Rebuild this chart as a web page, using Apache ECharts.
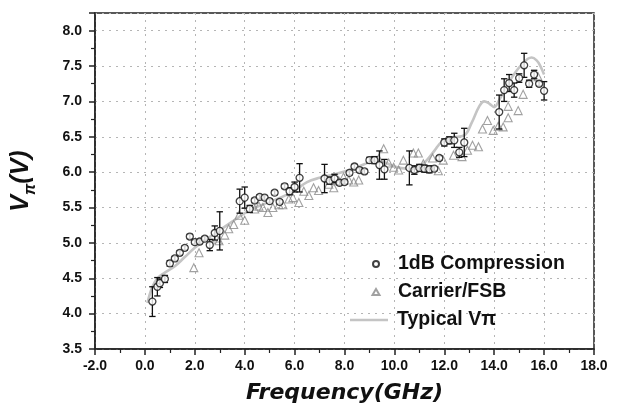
<!DOCTYPE html>
<html>
<head>
<meta charset="utf-8">
<script src="https://cdn.jsdelivr.net/npm/echarts@6/dist/echarts.min.js"></script>
<style>html,body{margin:0;padding:0;background:#fff;}#c{width:619px;height:415px;}</style>
</head>
<body>
<div id="c"></div>
<script>
// 1dB Compression (circles with error bars)
const cmpX = [0.3,0.5,0.6,0.8,1.0,1.2,1.4,1.6,1.8,2.0,2.2,2.4,2.6,2.8,3.0,3.8,4.0,4.2,4.4,4.6,4.8,5.0,5.2,5.4,5.6,5.8,6.0,6.2,7.2,7.4,7.6,7.8,8.0,8.2,8.4,8.6,8.8,9.0,9.2,9.4,9.6,10.6,10.8,11.0,11.2,11.4,11.6,11.8,12.0,12.2,12.4,12.6,12.8,14.2,14.4,14.6,14.8,15.0,15.2,15.4,15.6,15.8,16.0];
const cmpY = [4.17,4.38,4.43,4.49,4.71,4.78,4.86,4.93,5.09,5.01,5.02,5.06,4.97,5.14,5.17,5.59,5.64,5.48,5.60,5.65,5.64,5.59,5.71,5.58,5.80,5.73,5.79,5.92,5.91,5.88,5.91,5.85,5.86,5.99,6.08,6.03,6.01,6.17,6.17,6.10,6.04,6.06,6.03,6.06,6.05,6.04,6.05,6.20,6.42,6.45,6.45,6.28,6.42,6.85,7.16,7.26,7.16,7.33,7.51,7.25,7.38,7.25,7.15];
const cmpErr = [0.21,0.13,0.06,0.05,0.04,0.03,0.03,0.03,0.03,0.03,0.03,0.03,0.08,0.10,0.27,0.17,0.15,0.05,0.03,0.03,0.03,0.03,0.03,0.03,0.03,0.05,0.07,0.20,0.20,0.05,0.06,0.03,0.03,0.03,0.03,0.03,0.03,0.04,0.05,0.20,0.14,0.24,0.06,0.05,0.05,0.05,0.03,0.03,0.05,0.05,0.10,0.07,0.20,0.24,0.16,0.12,0.10,0.06,0.17,0.05,0.06,0.03,0.13];
// Carrier/FSB (triangles)
const fsbX = [1.96,2.17,2.87,2.97,3.2,3.36,3.56,3.77,4.0,4.4,4.57,4.73,4.93,5.13,5.37,5.53,5.77,5.93,6.17,6.37,6.57,6.76,6.96,7.37,7.57,7.77,7.96,8.17,8.37,8.57,9.37,9.57,9.77,9.97,10.17,10.36,10.76,10.96,11.16,11.53,11.76,11.96,12.37,12.71,12.93,13.13,13.37,13.53,13.73,13.96,14.16,14.36,14.56,14.56,14.96,15.16,15.76];
const fsbY = [4.65,4.86,5.07,5.03,5.11,5.20,5.26,5.39,5.32,5.48,5.52,5.50,5.43,5.50,5.54,5.54,5.62,5.64,5.57,5.73,5.67,5.78,5.74,5.83,5.78,5.88,5.93,5.89,5.86,5.89,6.19,6.33,6.13,6.07,6.03,6.17,6.27,6.27,6.12,6.20,6.02,6.17,6.24,6.22,6.31,6.38,6.36,6.61,6.73,6.59,6.65,6.64,6.77,6.93,6.87,7.10,7.35];
// Typical Vpi curve
const typX = [0.1,0.3,0.5,0.8,1.2,1.6,2.0,2.5,3.0,3.5,4.0,4.5,5.0,5.5,6.0,6.5,7.0,7.5,8.0,8.5,9.0,9.3,9.6,10.0,10.5,11.0,11.3,11.6,11.9,12.3,12.8,13.1,13.4,13.6,13.8,14.0,14.2,14.6,15.1,15.5,15.7,15.85,16.0];
const typY = [4.15,4.38,4.50,4.58,4.67,4.80,4.93,5.06,5.18,5.30,5.42,5.51,5.58,5.65,5.74,5.86,5.92,5.96,6.01,6.07,6.14,6.16,6.14,6.08,6.05,6.08,6.17,6.30,6.43,6.49,6.52,6.70,6.93,7.00,6.97,6.92,7.02,7.28,7.52,7.62,7.58,7.50,7.38];
const xTicks = {min: -2, max: 18, step: 2};
const yTicks = {min: 3.5, max: 8.25, step: 0.5};

const cmpData = cmpX.map((x, i) => [x, cmpY[i]]);
const errData = cmpX.map((x, i) => [x, cmpY[i], cmpErr[i]]);
const fsbData = fsbX.map((x, i) => [x, fsbY[i]]);
const typData = typX.map((x, i) => [x, typY[i]]);

const chart = echarts.init(document.getElementById('c'), null, {renderer: 'canvas'});
const tickFont = {fontFamily: '"Liberation Sans", Arial, sans-serif', fontWeight: 'bold', fontSize: 14, color: '#111'};
const legendFont = {fontFamily: '"Liberation Sans", Arial, sans-serif', fontWeight: 'bold', fontSize: 19.5, color: '#111'};
const split = {show: true, lineStyle: {color: '#b5b5b5', type: [2, 5], width: 1}};

chart.setOption({
  animation: false,
  backgroundColor: '#fff',
  grid: {left: 95, right: 25, top: 13, bottom: 66, show: true, borderColor: '#222', borderWidth: 1.5, backgroundColor: 'transparent'},
  legend: [
    {
      orient: 'vertical', left: 371.5, top: 254, padding: 0,
      itemWidth: 7, itemHeight: 6, itemGap: 8,
      textStyle: Object.assign({padding: [0, 0, 0, 13.5]}, legendFont),
      data: [{name: '1dB Compression', icon: 'circle'}, {name: 'Carrier/FSB', icon: 'triangle'}]
    },
    {
      orient: 'vertical', left: 350, top: 310, padding: 0,
      itemWidth: 38, itemHeight: 2.6,
      textStyle: Object.assign({padding: [0, 0, 0, 4]}, legendFont),
      data: [{name: 'Typical Vπ', icon: 'rect', itemStyle: {color: '#c4c4c4'}}]
    }
  ],
  xAxis: {
    type: 'value', min: xTicks.min, max: xTicks.max, interval: xTicks.step,
    name: 'Frequency(GHz)', nameLocation: 'middle', nameGap: 33,
    nameTextStyle: {fontFamily: '"DejaVu Sans", sans-serif', fontWeight: 'bold', fontStyle: 'italic', fontSize: 22, color: '#111'},
    axisLine: {show: true, onZero: false, lineStyle: {color: '#222', width: 1.5}},
    axisTick: {show: true, length: 6, lineStyle: {color: '#222', width: 1.5}},
    minorTick: {show: true, splitNumber: 2, length: 4, lineStyle: {color: '#222', width: 1.2}},
    axisLabel: Object.assign({margin: 10, formatter: v => v.toFixed(1)}, tickFont),
    splitLine: split
  },
  yAxis: {
    type: 'value', min: yTicks.min, max: yTicks.max, interval: yTicks.step,
    name: '{a|V}{b|π}{a|(V)}', nameLocation: 'middle', nameGap: 56,
    nameTextStyle: {
      rich: {
        a: {fontFamily: '"Liberation Sans", Arial, sans-serif', fontWeight: 'bold', fontStyle: 'italic', fontSize: 25, color: '#111', verticalAlign: 'bottom', padding: [0, 0, 5, 0]},
        b: {fontFamily: '"Liberation Sans", Arial, sans-serif', fontWeight: 'bold', fontStyle: 'italic', fontSize: 16, color: '#111', verticalAlign: 'bottom'}
      }
    },
    axisLine: {show: true, onZero: false, lineStyle: {color: '#222', width: 1.5}},
    axisTick: {show: true, length: 6, lineStyle: {color: '#222', width: 1.5}},
    minorTick: {show: true, splitNumber: 2, length: 4, lineStyle: {color: '#222', width: 1.2}},
    axisLabel: Object.assign({margin: 13, showMaxLabel: false, formatter: v => (Math.abs(v / 0.5 - Math.round(v / 0.5)) < 1e-6 ? v.toFixed(1) : '')}, tickFont),
    splitLine: split
  },
  series: [
    {
      name: 'Typical Vπ', type: 'line', data: typData, smooth: 0.4, symbol: 'none',
      lineStyle: {color: '#c4c4c4', width: 2.6}, itemStyle: {color: '#c4c4c4'}, z: 1
    },
    {
      name: 'Carrier/FSB', type: 'scatter', data: fsbData, symbol: 'triangle', symbolSize: 8,
      itemStyle: {color: 'rgba(255,255,255,0)', borderColor: '#8a8a8a', borderWidth: 1.1}, z: 2
    },
    {
      name: 'errbars', type: 'custom', data: errData, encode: {x: 0, y: 1}, z: 3, silent: true,
      renderItem: function (params, api) {
        const x = api.value(0), y = api.value(1), e = api.value(2);
        const t = api.coord([x, y + e]);
        const b = api.coord([x, y - e]);
        const w = 3.2;
        const st = {stroke: '#111', lineWidth: 1.3};
        return {type: 'group', children: [
          {type: 'line', shape: {x1: t[0], y1: t[1], x2: b[0], y2: b[1]}, style: st},
          {type: 'line', shape: {x1: t[0] - w, y1: t[1], x2: t[0] + w, y2: t[1]}, style: st},
          {type: 'line', shape: {x1: b[0] - w, y1: b[1], x2: b[0] + w, y2: b[1]}, style: st}
        ]};
      }
    },
    {
      name: '1dB Compression', type: 'scatter', data: cmpData, symbol: 'circle', symbolSize: 7,
      itemStyle: {color: '#fff', borderColor: '#111', borderWidth: 1.3}, z: 4
    }
  ]
});
</script>
</body>
</html>
